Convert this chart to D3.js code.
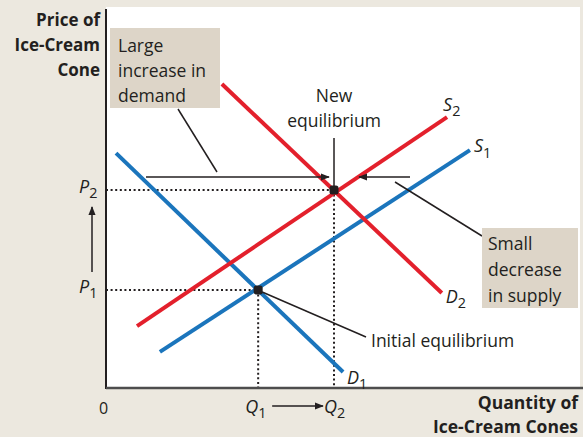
<!DOCTYPE html>
<html>
<head>
<meta charset="utf-8">
<script src="https://cdn.jsdelivr.net/npm/d3@7"></script>
<style>
  body { margin: 0; background: #ece8df; }
  svg { display: block; font-family: "Open Sans", "Noto Sans", sans-serif; }
</style>
</head>
<body>
<div id="chart"></div>
<script>
// curves: [quantity, price] endpoints, both on a 0-100 scale
var curveNames = ["D1", "S1", "S2", "D2"];
var curveStart = [[2.1, 61.8], [11.3, 9.5], [6.5, 16.3], [24.3, 80]];
var curveEnd = [[49.7, 4.2], [76.3, 62.6], [71.5, 71.3], [70.4, 25]];
var curveShift = ["old", "old", "new", "new"];

var eqNames = ["Initial equilibrium", "New equilibrium"];
var eqQuantity = [31.9, 47.8];
var eqPrice = [25.8, 52.1];

var width = 583;
var height = 437;

var red = "#e3202c";
var blue = "#1b75bc";

var x = d3.scaleLinear().domain([0, 100]).range([106, 583]);
var y = d3.scaleLinear().domain([0, 100]).range([388, 8]);

var svg = d3.select("#chart")
  .append("svg")
  .attr("width", width)
  .attr("height", height);

var defs = svg.append("defs");
defs.append("marker")
  .attr("id", "head")
  .attr("viewBox", "0 0 10 10")
  .attr("refX", 9).attr("refY", 5)
  .attr("markerWidth", 9).attr("markerHeight", 9)
  .attr("markerUnits", "userSpaceOnUse")
  .attr("orient", "auto")
  .append("path")
  .attr("d", "M0,1 L10,5 L0,9 Z")
  .attr("fill", "#231f20");

// white plot panel
svg.append("rect")
  .attr("x", x(0)).attr("y", 7)
  .attr("width", 580 - x(0)).attr("height", y(0) - 7)
  .attr("fill", "#ffffff");

// dotted guides
var dots = svg.append("g")
  .attr("stroke", "#231f20")
  .attr("stroke-width", 2)
  .attr("stroke-dasharray", "2,2.6");

eqQuantity.forEach(function(q, i) {
  dots.append("line")
    .attr("x1", x(0)).attr("x2", x(q))
    .attr("y1", y(eqPrice[i])).attr("y2", y(eqPrice[i]));
  dots.append("line")
    .attr("x1", x(q)).attr("x2", x(q))
    .attr("y1", y(eqPrice[i])).attr("y2", y(0));
});

// axes
svg.append("line")
  .attr("x1", x(0)).attr("x2", x(0))
  .attr("y1", 9).attr("y2", y(0) + 1)
  .attr("stroke", "#231f20").attr("stroke-width", 2);
svg.append("line")
  .attr("x1", x(0)).attr("x2", 583)
  .attr("y1", y(0)).attr("y2", y(0))
  .attr("stroke", "#4d4d4d").attr("stroke-width", 2.5);

// curves
svg.selectAll("line.curve")
  .data(curveNames)
  .enter()
  .append("line")
  .attr("class", "curve")
  .attr("x1", function(d, i) { return x(curveStart[i][0]); })
  .attr("y1", function(d, i) { return y(curveStart[i][1]); })
  .attr("x2", function(d, i) { return x(curveEnd[i][0]); })
  .attr("y2", function(d, i) { return y(curveEnd[i][1]); })
  .attr("stroke", function(d, i) { return curveShift[i] == "old" ? blue : red; })
  .attr("stroke-width", 4);

// labels with subscripts
function subLabel(g, px, py, letter, sub, size) {
  var t = g.append("text")
    .attr("x", px).attr("y", py)
    .attr("font-size", size)
    .attr("fill", "#231f20");
  t.append("tspan").attr("font-style", "italic").text(letter);
  t.append("tspan").attr("font-size", size * 0.8).attr("dy", size * 0.3).text(sub);
  return t;
}

var labelOffset = { D1: [4, 12], S1: [4, 2], S2: [-4, -6], D2: [4, 10] };
curveNames.forEach(function(n, i) {
  var px = x(curveEnd[i][0]) + labelOffset[n][0];
  var py = y(curveEnd[i][1]) + labelOffset[n][1];
  subLabel(svg, px, py, n[0], n[1], 18);
});

// equilibrium dots
svg.selectAll("rect.eq")
  .data(eqNames)
  .enter()
  .append("rect")
  .attr("class", "eq")
  .attr("x", function(d, i) { return x(eqQuantity[i]) - 4.5; })
  .attr("y", function(d, i) { return y(eqPrice[i]) - 4.5; })
  .attr("width", 9).attr("height", 9)
  .attr("rx", 2.5)
  .attr("fill", "#231f20");

// axis tick labels
subLabel(svg, 79, y(eqPrice[1]) + 3, "P", "2", 18);
subLabel(svg, 79, y(eqPrice[0]) + 3, "P", "1", 18);
subLabel(svg, x(eqQuantity[0]) - 13, 413, "Q", "1", 18);
subLabel(svg, x(eqQuantity[1]) - 10, 413, "Q", "2", 18);
svg.append("text")
  .attr("x", 99).attr("y", 414)
  .attr("font-size", 16).attr("fill", "#231f20")
  .text("0");

var arrows = svg.append("g")
  .attr("stroke", "#231f20")
  .attr("stroke-width", 1.5)
  .attr("fill", "none");

// price rise and quantity rise arrows
arrows.append("line")
  .attr("x1", 92).attr("y1", y(eqPrice[0]) - 18)
  .attr("x2", 92).attr("y2", y(eqPrice[1]) + 17)
  .attr("marker-end", "url(#head)");
arrows.append("line")
  .attr("x1", x(eqQuantity[0]) + 14).attr("y1", 406)
  .attr("x2", x(eqQuantity[1]) - 11).attr("y2", 406)
  .attr("marker-end", "url(#head)");

// shift arrows toward the new equilibrium
var shiftY = y(eqPrice[1]) - 13;
arrows.append("line")
  .attr("x1", 146).attr("y1", shiftY)
  .attr("x2", x(eqQuantity[1]) - 5).attr("y2", shiftY)
  .attr("marker-end", "url(#head)");
arrows.append("line")
  .attr("x1", 178).attr("y1", 109)
  .attr("x2", 217).attr("y2", 172);
arrows.append("line")
  .attr("x1", 410).attr("y1", shiftY)
  .attr("x2", x(eqQuantity[1]) + 25).attr("y2", shiftY)
  .attr("marker-end", "url(#head)");
arrows.append("line")
  .attr("x1", 395).attr("y1", 182)
  .attr("x2", 482).attr("y2", 236);

// leaders to equilibrium labels
arrows.append("line")
  .attr("x1", x(eqQuantity[1])).attr("y1", 138)
  .attr("x2", x(eqQuantity[1])).attr("y2", y(eqPrice[1]));
arrows.append("line")
  .attr("x1", x(eqQuantity[0]) + 4).attr("y1", y(eqPrice[0]) + 2)
  .attr("x2", 366).attr("y2", 337);

// text blocks
function block(lines, px, py, anchor, size, weight, lh) {
  var t = svg.append("text")
    .attr("x", px).attr("y", py)
    .attr("text-anchor", anchor)
    .attr("font-size", size)
    .attr("font-weight", weight)
    .attr("fill", "#231f20");
  lines.forEach(function(l, i) {
    t.append("tspan").attr("x", px).attr("dy", i == 0 ? 0 : lh).text(l);
  });
}

svg.append("rect")
  .attr("x", 110).attr("y", 28).attr("width", 110).attr("height", 80)
  .attr("fill", "#ddd5c8");
block(["Large", "increase in", "demand"], 118, 52, "start", 17.5, "normal", 25);

svg.append("rect")
  .attr("x", 482).attr("y", 228).attr("width", 96).attr("height", 80)
  .attr("fill", "#ddd5c8");
block(["Small", "decrease", "in supply"], 488, 250, "start", 17.5, "normal", 26);

block(["New", "equilibrium"], x(eqQuantity[1]), 102, "middle", 17.5, "normal", 25);
block(["Initial equilibrium"], 371, 347, "start", 17.5, "normal", 0);

block(["Price of", "Ice-Cream", "Cone"], 100, 26, "end", 17, "bold", 25);
block(["Quantity of", "Ice-Cream Cones"], 578, 409, "end", 17.5, "bold", 24);
</script>
</body>
</html>
